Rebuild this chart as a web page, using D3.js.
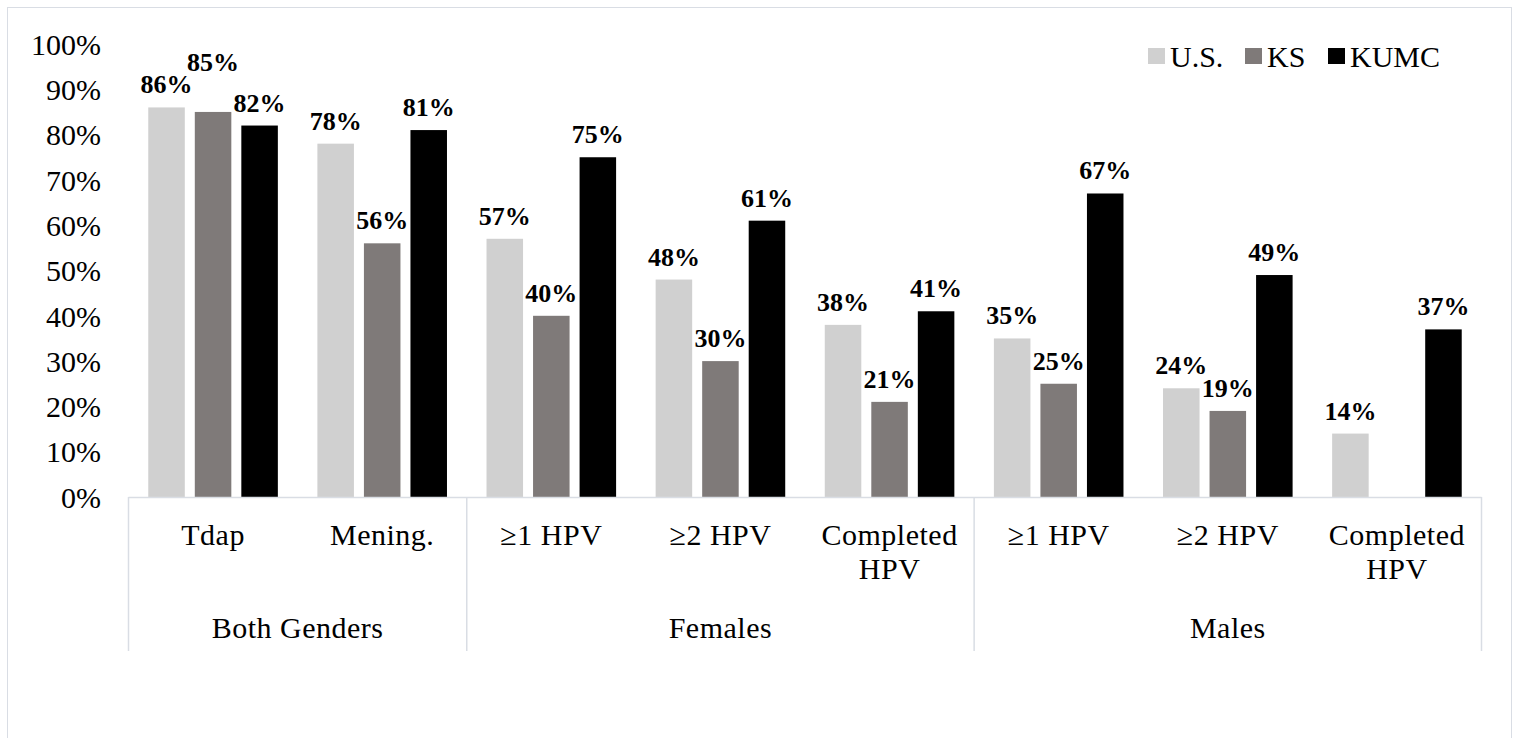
<!DOCTYPE html>
<html>
<head>
<meta charset="utf-8">
<script src="https://cdn.jsdelivr.net/npm/d3@7"></script>
<style>
  body { margin: 0; background: #fff; }
  text { font-family: "Liberation Serif", "Times New Roman", serif; fill: #000; }
</style>
</head>
<body>
<div id="chart"></div>
<script>
// values (percent)
var categories = ["Tdap", "Mening.", "≥1 HPV", "≥2 HPV", "Completed HPV", "≥1 HPV", "≥2 HPV", "Completed HPV"];
var genders = ["Both Genders", "Females", "Males"];
var genderSpan = [2, 3, 3];
var seriesNames = ["U.S.", "KS", "KUMC"];
var usValues = [86, 78, 57, 48, 38, 35, 24, 14];
var ksValues = [85, 56, 40, 30, 21, 25, 19, null];
var kumcValues = [82, 81, 75, 61, 41, 67, 49, 37];
var yTicks = [0, 10, 20, 30, 40, 50, 60, 70, 80, 90, 100];

function drawChart() {
  var series = [usValues, ksValues, kumcValues];
  var colors = ["#d0d0d0", "#7f7a79", "#000000"];

  var width = 1520, height = 738;
  var plotLeft = 128.5, plotRight = 1481.5, plotTop = 44, plotBottom = 497;

  var svg = d3.select("#chart").append("svg")
      .attr("width", width)
      .attr("height", height);

  // light frame round the whole chart
  svg.append("rect")
      .attr("x", 7.5).attr("y", 7.5)
      .attr("width", 1504).attr("height", 740)
      .attr("fill", "none")
      .attr("stroke", "#d9dde4");

  var x = d3.scaleBand()
      .domain(d3.range(categories.length))
      .range([plotLeft, plotRight]);

  var xs = d3.scaleBand()
      .domain(d3.range(series.length))
      .range([0, x.bandwidth()])
      .paddingInner(0.215)
      .paddingOuter(0.425);

  var y = d3.scaleLinear()
      .domain([0, 100])
      .range([plotBottom, plotTop]);

  // y axis labels (no line, no gridlines)
  var yAxis = d3.axisLeft(y)
      .tickValues(yTicks)
      .tickFormat(function(d) { return d + "%"; })
      .tickSize(0)
      .tickPadding(0);

  var ya = svg.append("g")
      .attr("transform", "translate(101,0)")
      .call(yAxis);
  ya.select(".domain").remove();
  ya.selectAll("text")
      .attr("font-size", "30px")
      .attr("font-family", "Liberation Serif")
      .attr("fill", "#222")
      .attr("dy", "0.34em");

  // bars
  var bars = [];
  series.forEach(function(vals, s) {
      vals.forEach(function(v, i) {
          if (v !== null) bars.push({ s: s, i: i, v: v });
      });
  });

  svg.append("g").selectAll("rect")
      .data(bars)
      .enter().append("rect")
      .attr("x", function(d) { return x(d.i) + xs(d.s); })
      .attr("y", function(d) { return y(d.v); })
      .attr("width", xs.bandwidth())
      .attr("height", function(d) { return y(0) - y(d.v); })
      .attr("fill", function(d) { return colors[d.s]; });

  // value labels; the KS Tdap label sits higher in the original
  var labelRaise = { "1-0": 27 };
  svg.append("g").selectAll("text")
      .data(bars)
      .enter().append("text")
      .attr("x", function(d) { return x(d.i) + xs(d.s) + xs.bandwidth() / 2; })
      .attr("y", function(d) { return y(d.v) - 14 - (labelRaise[d.s + "-" + d.i] || 0); })
      .attr("text-anchor", "middle")
      .attr("font-size", "26px")
      .attr("font-weight", "bold")
      .attr("fill", "#1a1a1a")
      .text(function(d) { return d.v + "%"; });

  // category axis line
  svg.append("line")
      .attr("x1", plotLeft).attr("x2", plotRight)
      .attr("y1", plotBottom + 0.5).attr("y2", plotBottom + 0.5)
      .attr("stroke", "#d9dde4")
      .attr("stroke-width", 1.5);

  // category labels
  svg.append("g").selectAll("text")
      .data(categories)
      .enter().append("text")
      .attr("x", function(d, i) { return x(i) + x.bandwidth() / 2; })
      .attr("y", 545)
      .attr("text-anchor", "middle")
      .attr("font-size", "30px")
      .attr("letter-spacing", "0.5px")
      .attr("fill", "#111")
      .each(function(d) {
          var words = d === "Completed HPV" ? ["Completed", "HPV"] : [d];
          var t = d3.select(this);
          words.forEach(function(w, k) {
              t.append("tspan")
                  .attr("x", t.attr("x"))
                  .attr("dy", k === 0 ? 0 : 34)
                  .text(w);
          });
      });

  // gender groups with separators
  var bounds = [0];
  genderSpan.forEach(function(n, k) { bounds.push(bounds[k] + n); });

  function edge(b) { return b < categories.length ? x(b) : plotRight; }

  svg.append("g").selectAll("line")
      .data(bounds)
      .enter().append("line")
      .attr("x1", edge)
      .attr("x2", edge)
      .attr("y1", plotBottom)
      .attr("y2", 651)
      .attr("stroke", "#d9dde4")
      .attr("stroke-width", 1.5);

  svg.append("g").selectAll("text")
      .data(genders)
      .enter().append("text")
      .attr("x", function(d, k) { return (edge(bounds[k]) + edge(bounds[k + 1])) / 2; })
      .attr("y", 638)
      .attr("text-anchor", "middle")
      .attr("font-size", "30px")
      .attr("letter-spacing", "0.5px")
      .attr("fill", "#111")
      .text(function(d) { return d; });

  // legend
  var legendX = [1148, 1245, 1328];
  var legend = svg.append("g").selectAll("g")
      .data(seriesNames)
      .enter().append("g")
      .attr("transform", function(d, i) { return "translate(" + legendX[i] + ",48)"; });

  legend.append("rect")
      .attr("width", 17)
      .attr("height", 16)
      .attr("fill", function(d, i) { return colors[i]; });

  legend.append("text")
      .attr("x", 22)
      .attr("y", 19)
      .attr("font-size", "30px")
      .attr("fill", "#111")
      .text(function(d) { return d; });
}

drawChart();
</script>
</body>
</html>
